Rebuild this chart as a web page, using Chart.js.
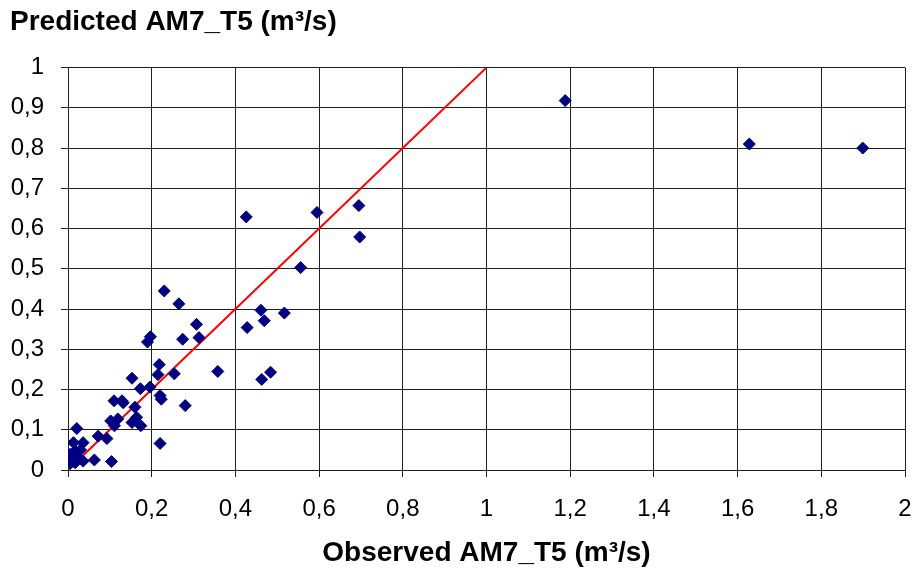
<!DOCTYPE html>
<html>
<head>
<meta charset="utf-8">
<script src="https://cdn.jsdelivr.net/npm/chart.js@4"></script>
<style>
  html, body { margin: 0; padding: 0; background: #fff; }
  #wrap { width: 917px; height: 576px; }
</style>
</head>
<body>
<div id="wrap"><canvas id="scatterChart" width="917" height="576"></canvas></div>
<script>
// Observed vs predicted AM7_T5 (m3/s)
const observed = [
  0.230, 0.265, 0.307, 0.428, 0.197, 0.190, 0.274, 0.313, 0.218, 0.215,
  0.254, 0.358, 0.153, 0.173, 0.196, 0.220, 0.223, 0.280, 0.110, 0.129,
  0.132, 0.160, 0.102, 0.111, 0.119, 0.153, 0.174, 0.164, 0.220, 0.072,
  0.093, 0.021, 0.013, 0.036, 0.017, 0.005, 0.025, 0.036, 0.063, 0.104,
  0.005, 0.017, 0.010, 0.030, 0.426, 0.595, 0.695, 0.697, 0.556, 0.461,
  0.517, 0.469, 0.484, 0.463, 1.188, 1.628, 1.899
];
const predicted = [
  0.445, 0.413, 0.362, 0.354, 0.331, 0.318, 0.325, 0.329, 0.262, 0.237,
  0.239, 0.245, 0.228, 0.202, 0.206, 0.185, 0.176, 0.160, 0.172, 0.172,
  0.167, 0.156, 0.122, 0.110, 0.127, 0.118, 0.110, 0.131, 0.066, 0.084,
  0.078, 0.103, 0.068, 0.068, 0.047, 0.039, 0.031, 0.022, 0.025, 0.021,
  0.016, 0.018, 0.030, 0.050, 0.629, 0.640, 0.657, 0.579, 0.503, 0.397,
  0.390, 0.371, 0.243, 0.225, 0.918, 0.810, 0.800
];

// 1:1 line
const lineX = [0, 1];
const lineY = [0, 1];

const xTickLabels = ["0", "0,2", "0,4", "0,6", "0,8", "1", "1,2", "1,4", "1,6", "1,8", "2"];
const yTickLabels = ["0", "0,1", "0,2", "0,3", "0,4", "0,5", "0,6", "0,7", "0,8", "0,9", "1"];

const gridColor = "#1f1f1f";
const tickFont = { family: "'Liberation Sans', Arial, sans-serif", size: 24 };
const titleFont = { family: "'Liberation Sans', Arial, sans-serif", size: 28, weight: "bold" };

const points = observed.map((x, i) => ({ x: x, y: predicted[i] }));
const linePts = lineX.map((x, i) => ({ x: x, y: lineY[i] }));

new Chart(document.getElementById("scatterChart"), {
  type: "scatter",
  data: {
    datasets: [
      {
        label: "Stations",
        data: points,
        pointStyle: "rectRot",
        pointRadius: 6,
        pointBackgroundColor: "#000080",
        pointBorderColor: "#000080",
        pointBorderWidth: 1,
        order: 1
      },
      {
        type: "line",
        label: "1:1",
        data: linePts,
        borderColor: "#ff0000",
        borderWidth: 2,
        pointRadius: 0,
        fill: false,
        order: 2
      }
    ]
  },
  options: {
    responsive: false,
    animation: false,
    layout: { autoPadding: false, padding: { left: 10, right: 0, top: 5, bottom: 0 } },
    plugins: {
      legend: { display: false },
      tooltip: { enabled: false },
      title: {
        display: true,
        text: "Predicted AM7_T5 (m³/s)",
        align: "start",
        color: "#000",
        font: titleFont,
        padding: { top: 0, bottom: 29 }
      }
    },
    scales: {
      x: {
        type: "linear",
        min: 0,
        max: 2,
        afterFit: s => {
          s.height = 106;
          s.paddingLeft = 0;
          s.paddingRight = 12;
        },
        ticks: {
          stepSize: 0.2,
          color: "#000",
          font: tickFont,
          padding: 18,
          maxRotation: 0,
          callback: (v, i) => xTickLabels[i]
        },
        grid: { color: gridColor, lineWidth: 1, tickLength: 7, drawTicks: true },
        border: { display: true, color: gridColor },
        title: {
          display: true,
          text: "Observed AM7_T5 (m³/s)",
          color: "#000",
          font: titleFont,
          padding: { top: 2, bottom: 6 }
        }
      },
      y: {
        type: "linear",
        min: 0,
        max: 1,
        afterFit: s => { s.width = 58; },
        ticks: {
          stepSize: 0.1,
          color: "#000",
          font: tickFont,
          padding: 17,
          callback: (v, i) => yTickLabels[i]
        },
        grid: { color: gridColor, lineWidth: 1, tickLength: 7, drawTicks: true },
        border: { display: true, color: gridColor }
      }
    }
  }
});
</script>
</body>
</html>
